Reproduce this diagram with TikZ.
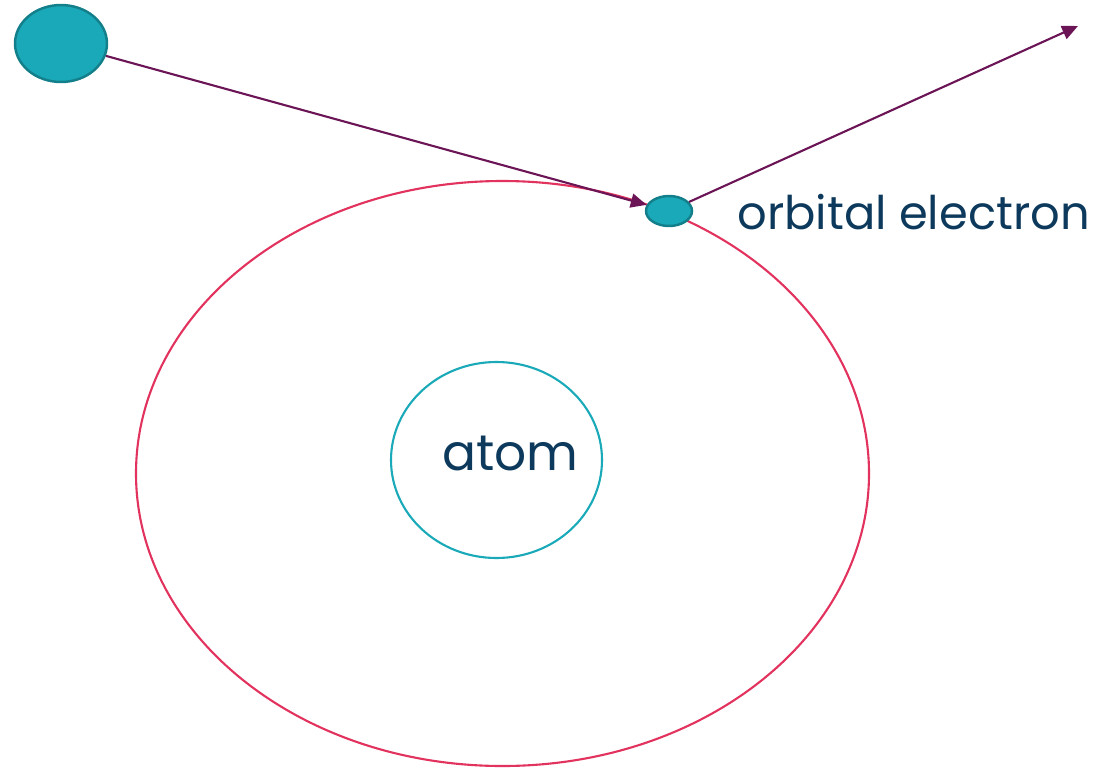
\documentclass[tikz,border=0pt]{standalone}
\usepackage{fontspec}
\newfontfamily\labelfont{Poppins}
\usetikzlibrary{arrows.meta,shapes.geometric}
\definecolor{tealfill}{HTML}{1AA9B8}
\definecolor{tealedge}{HTML}{137F8A}
\definecolor{pathpurple}{HTML}{6B1556}
\definecolor{orbitred}{HTML}{E2335F}
\definecolor{textblue}{HTML}{0D3A5C}

\begin{document}
\begin{tikzpicture}[x=0.02cm,y=-0.02cm,
    particle/.style={ellipse,draw=tealedge,fill=tealfill,line width=1.4pt,inner sep=0pt},
    track/.style={pathpurple,line width=1.2pt,-{Triangle[length=9pt,width=8pt]}}]
  \useasboundingbox (0,0) rectangle (1094,767);
  \draw[orbitred,line width=1.2pt] (502.5,473.5) ellipse (366.5 and 292.5);
  \draw[tealfill,line width=1.2pt] (496.5,460) ellipse (105.5 and 98);
  \node[particle,minimum width=1.84cm,minimum height=1.54cm] (proton) at (61,43.5) {};
  \node[particle,minimum width=0.92cm,minimum height=0.6cm] (electron) at (669,211) {};
  \coordinate (out) at (1078,26);
  \draw[track] (proton) -- (electron);
  \draw[track] (electron) -- (out);
  \node[anchor=base west,inner sep=0pt,text=textblue,font=\labelfont\fontsize{26.4}{30}\selectfont]
    (orbital) at (737,229) {orbital electron};
  \node[anchor=base west,inner sep=0pt,text=textblue,font=\labelfont\fontsize{28.6}{32}\selectfont]
    (atom) at (442,470) {atom};
\end{tikzpicture}
\end{document}
